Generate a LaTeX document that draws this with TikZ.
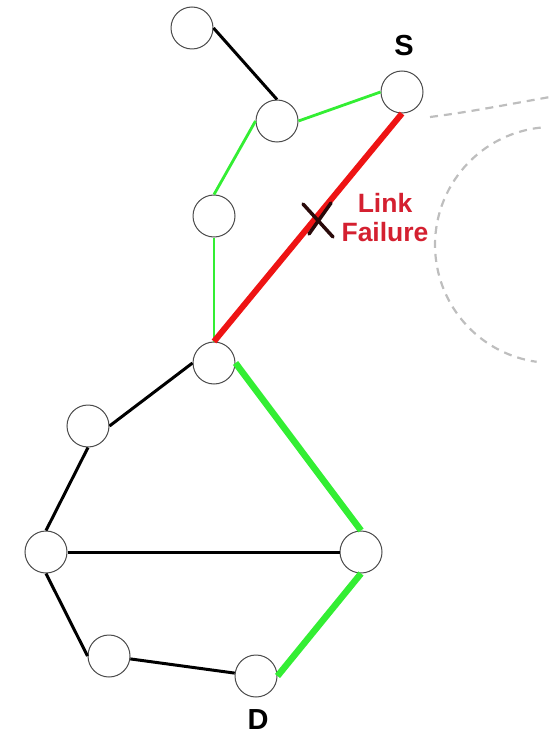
\documentclass[tikz,border=0pt]{standalone}
\usepackage{fontspec}
\setmainfont{Liberation Sans}
\usetikzlibrary{calc}
\definecolor{netInk}{HTML}{2A0A0A}
\definecolor{netEdge}{HTML}{4A4A4A}
\definecolor{netGreen}{HTML}{33EE33}
\definecolor{netRed}{HTML}{EE1414}
\definecolor{netLabel}{HTML}{D42030}
\definecolor{netGray}{HTML}{BEBEBE}

\begin{document}
\begin{tikzpicture}[
    x=1pt, y=-1pt,
    net node/.style={circle, draw=netEdge, line width=1pt, fill=white, minimum size=42pt, inner sep=0pt},
    net link/.style={draw=black, line width=3pt},
    net path/.style={draw=netGreen, line width=2.8pt},
    net route/.style={draw=netGreen, line width=6.5pt},
    net fail/.style={draw=netRed, line width=6pt},
    net cross/.style={draw=netInk, line width=3.5pt, line cap=round},
    net zone/.style={draw=netGray, line width=2.2pt, dash pattern=on 8pt off 6pt},
    net name/.style={text=black, font=\bfseries\fontsize{29}{31}\selectfont, inner sep=0pt},
    net note/.style={text=netLabel, font=\bfseries\fontsize{26.5}{29}\selectfont, align=center, inner sep=0pt},
]
  \useasboundingbox (0,0) rectangle (550,735);

  % Zona tracejada.
  \draw[net zone] (430,117) .. controls (470,112) and (510,104) .. (550,97);
  \draw[net zone] (540.7,127.6) arc[start angle=96, end angle=262, radius=118pt];

  % Nós.
  \node[net node] (n1) at (192,28) {};
  \node[net node] (n2) at (277,121) {};
  \node[net node] (s) at (402,92) {};
  \node[net node] (n3) at (214,216) {};
  \node[net node] (n4) at (214,363) {};
  \node[net node] (n5) at (88,426) {};
  \node[net node] (n6) at (46,552) {};
  \node[net node] (n7) at (361,552) {};
  \node[net node] (n8) at (109,656) {};
  \node[net node] (d) at (256,676) {};

  % Ligações.
  \draw[net link] (n1.east) -- (n2.north);
  \draw[net link] (n5.east) -- (n4.west);
  \draw[net link] (n5.south) -- (n6.north);
  \draw[net link] (n6) -- (n7);
  \draw[net link] (n6.south) -- (n8.west);
  \draw[net link] (n8) -- (d);
  \draw[net path] (n2.east) -- (s.west);
  \draw[net path] (n2.west) -- (n3.north);
  \draw[net path] (n3.south) -- (n4.north);
  \draw[net fail] (s.south) -- (n4.north);
  \draw[net route] (d.east) -- (n7.south);
  \draw[net route] (n7.north) -- (n4.east);

  % Falha.
  \coordinate (fx) at (318,220);
  \draw[net cross] ($(fx)+(-15,-16)$) -- ($(fx)+(15,17)$);
  \draw[net cross] ($(fx)+(13,-17)$) -- ($(fx)+(-9,14)$);

  % Rótulos.
  \node[net name] (s-name) at (404,46) {S};
  \node[net name] (d-name) at (258,720) {D};
  \node[net note] (fail-name) at (385,218) {Link\\Failure};
\end{tikzpicture}
\end{document}
